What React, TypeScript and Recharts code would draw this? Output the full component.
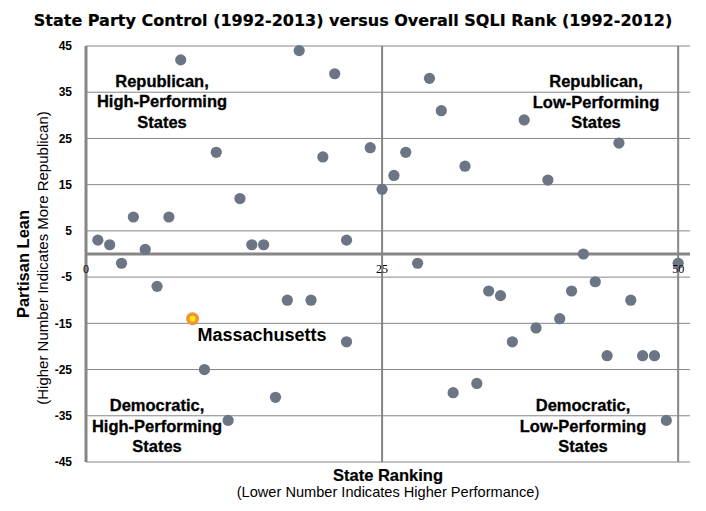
import React from 'react';
import {
  ScatterChart,
  Scatter,
  XAxis,
  YAxis,
  CartesianGrid,
  ReferenceLine,
  ReferenceDot,
} from 'recharts';

// state ranking (x) and partisan lean (y), one entry per state
const stateRanks = [
  1, 2, 3, 4, 5, 6, 7, 8, 10, 11, 12, 13, 14, 15, 16, 17, 18, 19, 20, 21, 22, 22, 24, 25, 26,
  27, 28, 29, 30, 31, 32, 33, 34, 35, 36, 37, 38, 39, 40, 41, 42, 43, 44, 45, 46, 47, 48, 49, 50,
];
const partisanLeans = [
  3, 2, -2, 8, 1, -7, 8, 42, -25, 22, -36, 12, 2, 2, -31, -10, 44, -10, 21, 39, 3, -19, 23, 14, 17,
  22, -2, 38, 31, -30, 19, -28, -8, -9, -19, 29, -16, 16, -14, -8, 0, -6, -22, 24, -10, -22, -22,
  -36, -2,
];
const highlightRank = 9;
const highlightLean = -14;
const highlightName = 'Massachusetts';

const yTicks = [45, 35, 25, 15, 5, -5, -15, -25, -35, -45];
const xTickLabels = [0, 25, 50];
const quadrantLines = [25, 50];

const states = stateRanks.map((rank, i) => ({ rank, lean: partisanLeans[i] }));
const highlight = [{ rank: highlightRank, lean: highlightLean }];

const GRID = '#868686';
const SANS = '"Liberation Sans", Arial, sans-serif';

const QuadLabel = ({ x, y, lines }: { x: number; y: number; lines: string[] }) => (
  <div
    style={{
      position: 'absolute',
      left: x - 100,
      top: y - 10,
      width: 200,
      textAlign: 'center',
      fontFamily: SANS,
      fontWeight: 'bold',
      fontSize: 16.5,
      lineHeight: '20.5px',
      color: '#000',
      WebkitTextStroke: '0.3px #000',
    }}
  >
    {lines.map((l) => (
      <div key={l}>{l}</div>
    ))}
  </div>
);

const Dot = (props: any) => <circle cx={props.cx} cy={props.cy} r={5.6} fill="#6b7584" />;

const HighlightDot = (props: any) => (
  <g>
    <circle cx={props.cx} cy={props.cy} r={6.5} fill="#ee9636" />
    <circle cx={props.cx} cy={props.cy} r={3} fill="#ffe81a" />
  </g>
);

export default function App() {
  return (
    <div
      style={{
        position: 'absolute',
        left: 0,
        top: 0,
        width: 706,
        height: 511,
        background: '#fff',
        fontFamily: SANS,
      }}
    >
      <ScatterChart width={706} height={511} margin={{ top: 46, right: 16, bottom: 49, left: 0 }}>
        <CartesianGrid vertical={false} stroke={GRID} strokeWidth={1} />
        <XAxis type="number" dataKey="rank" domain={[0, 51]} hide />
        <YAxis
          type="number"
          dataKey="lean"
          domain={[-45, 45]}
          ticks={yTicks}
          interval={0}
          width={86}
          tickLine={false}
          tickMargin={8}
          axisLine={{ stroke: GRID, strokeWidth: 3 }}
          tick={{ fill: '#000', fontSize: 12, fontWeight: 'bold', fontFamily: SANS }}
        />
        <ReferenceLine y={0} stroke={GRID} strokeWidth={3} />
        {quadrantLines.map((v) => (
          <ReferenceLine key={v} x={v} stroke={GRID} strokeWidth={2} />
        ))}
        {xTickLabels.map((t) => (
          <ReferenceDot
            key={t}
            x={t}
            y={0}
            r={1}
            fill="none"
            stroke="none"
            label={{
              value: String(t),
              position: 'bottom',
              offset: 9,
              fill: '#000',
              fontSize: 12,
              fontFamily: '"Liberation Serif", serif',
            }}
          />
        ))}
        <Scatter data={states} shape={Dot} isAnimationActive={false} />
        <Scatter data={highlight} shape={HighlightDot} isAnimationActive={false} />
      </ScatterChart>

      <div
        style={{
          position: 'absolute',
          left: 0,
          top: 11,
          width: 706,
          textAlign: 'center',
          fontFamily: '"DejaVu Sans", sans-serif',
          fontWeight: 'bold',
          fontSize: 16,
          lineHeight: '20px',
          WebkitTextStroke: '0.2px #000',
        }}
      >
        State Party Control (1992-2013) versus Overall SQLI Rank (1992-2012)
      </div>

      <div
        style={{
          position: 'absolute',
          left: 23 - 150,
          top: 264 - 10,
          width: 300,
          height: 20,
          lineHeight: '20px',
          textAlign: 'center',
          fontWeight: 'bold',
          fontSize: 16.5,
          transform: 'rotate(-90deg)',
        }}
      >
        Partisan Lean
      </div>
      <div
        style={{
          position: 'absolute',
          left: 43 - 200,
          top: 258 - 9,
          width: 400,
          height: 18,
          lineHeight: '18px',
          textAlign: 'center',
          fontSize: 15,
          transform: 'rotate(-90deg)',
        }}
      >
        (Higher Number Indicates More Republican)
      </div>

      <div
        style={{
          position: 'absolute',
          left: 388 - 150,
          top: 474.5 - 10,
          width: 300,
          lineHeight: '20px',
          textAlign: 'center',
          fontWeight: 'bold',
          fontSize: 16.5,
          WebkitTextStroke: '0.2px #000',
        }}
      >
        State Ranking
      </div>
      <div
        style={{
          position: 'absolute',
          left: 388 - 200,
          top: 492 - 9,
          width: 400,
          lineHeight: '18px',
          textAlign: 'center',
          fontSize: 14.6,
        }}
      >
        (Lower Number Indicates Higher Performance)
      </div>

      <div
        style={{
          position: 'absolute',
          left: 262 - 100,
          top: 335 - 11,
          width: 200,
          lineHeight: '22px',
          textAlign: 'center',
          fontWeight: 'bold',
          fontSize: 18,
        }}
      >
        {highlightName}
      </div>

      <QuadLabel x={162} y={80.5} lines={['Republican,', 'High-Performing', 'States']} />
      <QuadLabel x={596} y={81} lines={['Republican,', 'Low-Performing', 'States']} />
      <QuadLabel x={157} y={405} lines={['Democratic,', 'High-Performing', 'States']} />
      <QuadLabel x={583} y={405} lines={['Democratic,', 'Low-Performing', 'States']} />
    </div>
  );
}
